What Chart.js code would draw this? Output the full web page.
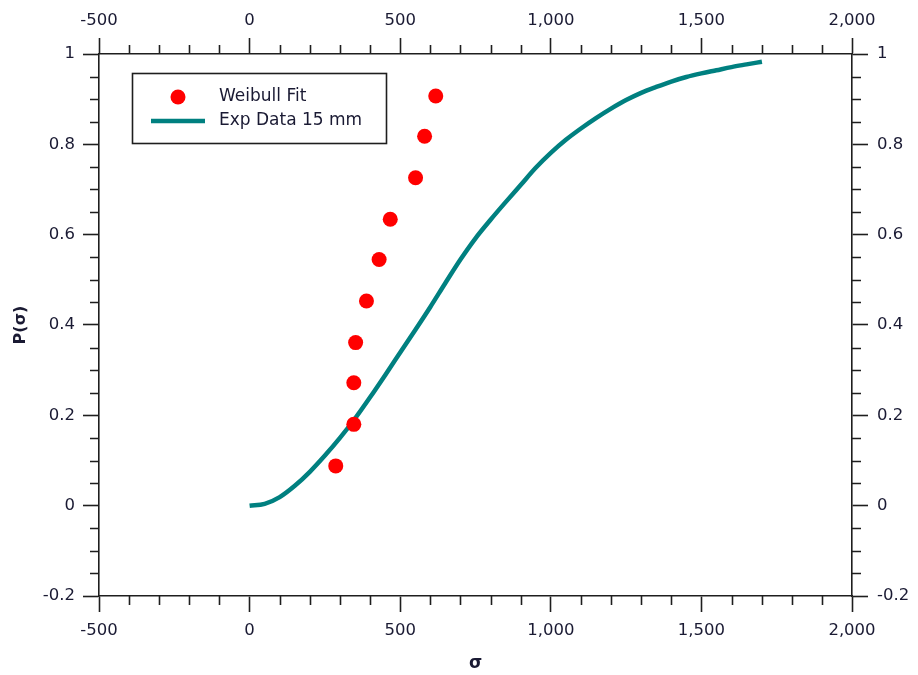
<!DOCTYPE html>
<html>
<head>
<meta charset="utf-8">
<script src="https://cdn.jsdelivr.net/npm/chart.js@4/dist/chart.umd.min.js"></script>
<style>
  html, body { margin: 0; padding: 0; background: #ffffff; }
  #wrap { width: 918px; height: 675px; position: relative; }
</style>
</head>
<body>
<div id="wrap"><canvas id="c" width="918" height="675"></canvas></div>
<script>
// ---- Data ----
const weibullLabel = "Weibull Fit";
const weibullX = [286, 346, 346, 352, 388, 430, 467, 551, 581, 618];
const weibullY = [0.088, 0.180, 0.272, 0.361, 0.453, 0.545, 0.634, 0.726, 0.818, 0.907];

const expLabel = "Exp Data 15 mm";
const expX = [0, 50, 100, 150, 200, 250, 300, 350, 400, 450, 500, 550, 600, 650, 700, 750, 800, 850, 900, 950, 1000, 1050, 1100, 1150, 1200, 1250, 1300, 1350, 1400, 1450, 1500, 1550, 1600, 1650, 1701];
const expY = [0, 0.004, 0.019, 0.044, 0.075, 0.111, 0.150, 0.193, 0.240, 0.289, 0.339, 0.389, 0.440, 0.493, 0.545, 0.592, 0.633, 0.672, 0.710, 0.748, 0.781, 0.810, 0.835, 0.858, 0.879, 0.898, 0.914, 0.927, 0.939, 0.949, 0.957, 0.964, 0.971, 0.977, 0.983];

const xTickValues = [-500, 0, 500, 1000, 1500, 2000];
const yTickValues = [-0.2, 0, 0.2, 0.4, 0.6, 0.8, 1];
const xTitle = "σ";
const yTitle = "P(σ)";

// ---- Styling ----
const FONT = "'DejaVu Sans', 'Liberation Sans', sans-serif";
const AXIS_COLOR = "#1e1e1e";
const TEXT_COLOR = "#1a1a33";

const toPts = (xs, ys) => xs.map((x, i) => ({ x: x, y: ys[i] }));

const fmtX = v => Number(v).toLocaleString('en-US');
const fmtY = v => {
  const r = Math.round(v * 100) / 100;
  return (Math.abs(r) < 1e-9 ? 0 : r).toString();
};

const baseGrid = {
  drawOnChartArea: false,
  drawTicks: true,
  tickLength: 16,
  tickColor: AXIS_COLOR,
  tickWidth: 1.6
};
const baseBorder = { display: true, color: AXIS_COLOR, width: 1.6 };
const tickFont = { family: FONT, size: 16.5 };

function xScale(pos, showTitle) {
  return {
    type: 'linear', position: pos, min: -500, max: 2000,
    afterBuildTicks: s => { s.ticks = xTickValues.map(v => ({ value: v })); },
    ticks: { callback: v => fmtX(v), color: TEXT_COLOR, font: tickFont, padding: pos === 'bottom' ? 9 : 7, maxRotation: 0, autoSkip: false },
    grid: baseGrid, border: baseBorder,
    title: showTitle ? { display: true, text: xTitle, color: TEXT_COLOR, font: { family: FONT, size: 17, weight: 'bold' }, padding: { top: 0, bottom: 1 } } : { display: false },
    afterFit: s => { s.height = pos === 'bottom' ? 79 : 54; }
  };
}
function yScale(pos, showTitle) {
  return {
    type: 'linear', position: pos, min: -0.2, max: 1,
    afterBuildTicks: s => { s.ticks = yTickValues.map(v => ({ value: v })); },
    ticks: { callback: v => fmtY(v), color: TEXT_COLOR, font: tickFont, padding: pos === 'left' ? 8 : 9, autoSkip: false },
    grid: baseGrid, border: baseBorder,
    title: showTitle ? { display: true, text: yTitle, color: TEXT_COLOR, font: { family: FONT, size: 16, weight: 'bold' }, padding: { top: 11, bottom: 0 } } : { display: false },
    afterFit: s => { s.width = pos === 'left' ? 99 : 66; }
  };
}

// Minor ticks drawn from the scales
const minorTicks = {
  id: 'minorTicks',
  afterDraw(chart) {
    const ctx = chart.ctx, a = chart.chartArea;
    const xs = chart.scales.x, ys = chart.scales.y;
    const L = 9;
    ctx.save();
    ctx.strokeStyle = AXIS_COLOR;
    ctx.lineWidth = 1.6;
    ctx.beginPath();
    for (let v = xs.min; v <= xs.max + 1e-6; v += 100) {
      if (Math.abs(v % 500) < 1e-6) continue;
      const px = Math.round(xs.getPixelForValue(v)) + 0.5;
      ctx.moveTo(px, a.bottom); ctx.lineTo(px, a.bottom + L);
      ctx.moveTo(px, a.top); ctx.lineTo(px, a.top - L);
    }
    for (let k = Math.round(ys.min / 0.05); k <= Math.round(ys.max / 0.05); k++) {
      if (k % 4 === 0) continue;
      const py = Math.round(ys.getPixelForValue(k * 0.05)) + 0.5;
      ctx.moveTo(a.left, py); ctx.lineTo(a.left - L, py);
      ctx.moveTo(a.right, py); ctx.lineTo(a.right + L, py);
    }
    ctx.stroke();
    ctx.restore();
  }
};

// Boxed legend inside the plot area
const boxLegend = {
  id: 'boxLegend',
  afterDraw(chart) {
    const ctx = chart.ctx;
    const bx = 132, by = 73, bw = 254, bh = 70;
    ctx.save();
    ctx.fillStyle = '#ffffff';
    ctx.fillRect(bx, by, bw, bh);
    ctx.strokeStyle = AXIS_COLOR;
    ctx.lineWidth = 1.6;
    ctx.strokeRect(bx + 0.5, by + 0.5, bw, bh);
    ctx.font = "17px " + FONT;
    ctx.textBaseline = 'middle';
    const ds = chart.data.datasets;
    // entry 1: point
    let cy = by + 24;
    ctx.fillStyle = ds[0].backgroundColor;
    ctx.beginPath(); ctx.arc(178, cy, 7.5, 0, Math.PI * 2); ctx.fill();
    ctx.fillStyle = TEXT_COLOR;
    ctx.fillText(ds[0].label, 219, cy);
    // entry 2: line
    cy = by + 48;
    ctx.strokeStyle = ds[1].borderColor;
    ctx.lineWidth = 4.5;
    ctx.beginPath(); ctx.moveTo(151, cy); ctx.lineTo(205, cy); ctx.stroke();
    ctx.fillText(ds[1].label, 219, cy);
    ctx.restore();
  }
};

new Chart(document.getElementById('c'), {
  type: 'scatter',
  data: {
    datasets: [
      {
        label: weibullLabel,
        data: toPts(weibullX, weibullY),
        backgroundColor: '#ff0000',
        borderColor: '#ff0000',
        pointRadius: 7.5,
        pointHoverRadius: 7.5,
        borderWidth: 0,
        showLine: false,
        xAxisID: 'x', yAxisID: 'y',
        order: 1
      },
      {
        label: expLabel,
        data: toPts(expX, expY),
        borderColor: '#008080',
        backgroundColor: '#008080',
        borderWidth: 4.5,
        pointRadius: 0,
        showLine: true,
        cubicInterpolationMode: 'monotone',
        xAxisID: 'x', yAxisID: 'y',
        order: 2
      }
    ]
  },
  options: {
    responsive: false,
    animation: false,
    layout: { padding: 0 },
    plugins: { legend: { display: false }, tooltip: { enabled: false } },
    scales: {
      x: xScale('bottom', true),
      x2: xScale('top', false),
      y: yScale('left', true),
      y2: yScale('right', false)
    }
  },
  plugins: [minorTicks, boxLegend]
});
</script>
</body>
</html>
